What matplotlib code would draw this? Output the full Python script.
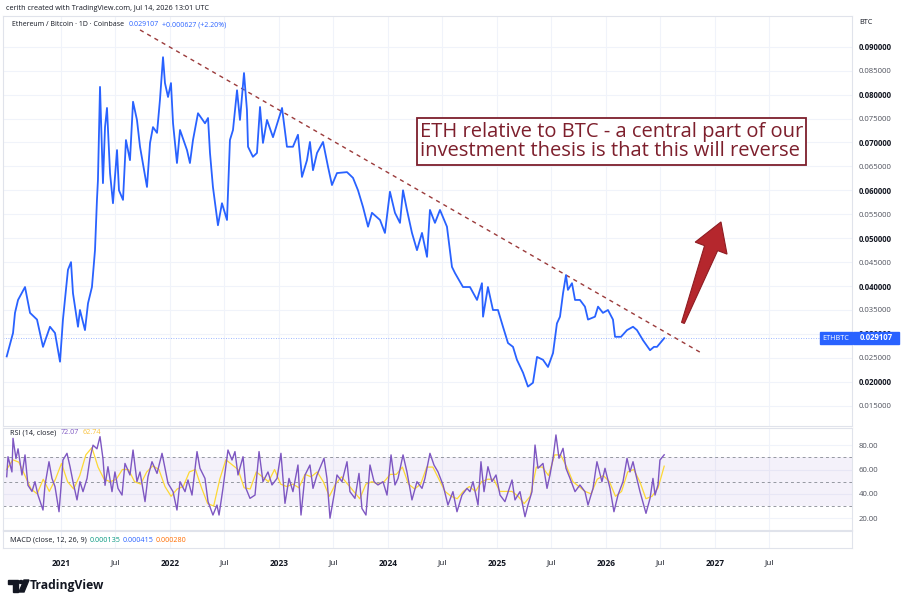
import numpy as np
import matplotlib
matplotlib.use("Agg")
import matplotlib.pyplot as plt
from matplotlib.patches import Polygon, Rectangle, Circle
from matplotlib.transforms import IdentityTransform

plt.rcParams['font.family'] = ['Open Sans', 'DejaVu Sans']

# ETH/BTC daily close (decimal years)
price_t = [2020.502, 2020.560, 2020.578, 2020.606, 2020.670, 2020.716, 2020.780, 2020.835, 2020.899, 2020.945,
           2020.991, 2021.018, 2021.064, 2021.092, 2021.110, 2021.156, 2021.174, 2021.220, 2021.248, 2021.284,
           2021.312, 2021.330, 2021.339, 2021.358, 2021.385, 2021.404, 2021.422, 2021.450, 2021.477, 2021.514,
           2021.532, 2021.569, 2021.596, 2021.633, 2021.661, 2021.697, 2021.725, 2021.789, 2021.817, 2021.844,
           2021.881, 2021.908, 2021.936, 2021.954, 2021.982, 2022.009, 2022.028, 2022.064, 2022.092, 2022.156,
           2022.183, 2022.211, 2022.257, 2022.321, 2022.349, 2022.367, 2022.394, 2022.440, 2022.477, 2022.523,
           2022.550, 2022.578, 2022.615, 2022.642, 2022.679, 2022.706, 2022.716, 2022.761, 2022.798, 2022.826,
           2022.853, 2022.890, 2022.945, 2023.028, 2023.073, 2023.128, 2023.174, 2023.211, 2023.257, 2023.284,
           2023.312, 2023.349, 2023.404, 2023.450, 2023.486, 2023.532, 2023.624, 2023.679, 2023.725, 2023.771,
           2023.817, 2023.853, 2023.927, 2023.972, 2024.018, 2024.064, 2024.110, 2024.138, 2024.174, 2024.220,
           2024.266, 2024.312, 2024.358, 2024.385, 2024.431, 2024.477, 2024.541, 2024.587, 2024.615, 2024.688,
           2024.752, 2024.817, 2024.862, 2024.872, 2024.917, 2024.963, 2025.009, 2025.055, 2025.101, 2025.147,
           2025.183, 2025.239, 2025.284, 2025.330, 2025.367, 2025.422, 2025.468, 2025.514, 2025.550, 2025.578,
           2025.606, 2025.633, 2025.651, 2025.688, 2025.716, 2025.761, 2025.807, 2025.835, 2025.899, 2025.927,
           2025.972, 2026.018, 2026.064, 2026.083, 2026.138, 2026.193, 2026.248, 2026.284, 2026.339, 2026.404,
           2026.440, 2026.468, 2026.534]
price = [0.0253, 0.0302, 0.0344, 0.0371, 0.0398, 0.0344, 0.0330, 0.0273, 0.0315, 0.0302,
         0.0242, 0.0330, 0.0434, 0.0450, 0.0385, 0.0315, 0.0350, 0.0308, 0.0364, 0.0398,
         0.0475, 0.0580, 0.0621, 0.0816, 0.0615, 0.0732, 0.0772, 0.0636, 0.0573, 0.0684,
         0.0600, 0.0580, 0.0705, 0.0663, 0.0785, 0.0747, 0.0691, 0.0607, 0.0699, 0.0732,
         0.0720, 0.0789, 0.0878, 0.0824, 0.0795, 0.0824, 0.0740, 0.0657, 0.0726, 0.0684,
         0.0657, 0.0705, 0.0761, 0.0740, 0.0751, 0.0678, 0.0607, 0.0527, 0.0573, 0.0538,
         0.0705, 0.0726, 0.0809, 0.0747, 0.0845, 0.0768, 0.0691, 0.0670, 0.0678, 0.0774,
         0.0699, 0.0747, 0.0711, 0.0772, 0.0691, 0.0691, 0.0716, 0.0628, 0.0663, 0.0701,
         0.0642, 0.0678, 0.0701, 0.0649, 0.0611, 0.0636, 0.0638, 0.0626, 0.0600, 0.0565,
         0.0524, 0.0553, 0.0538, 0.0511, 0.0597, 0.0553, 0.0532, 0.0600, 0.0559, 0.0511,
         0.0475, 0.0511, 0.0461, 0.0559, 0.0532, 0.0559, 0.0524, 0.0440, 0.0427, 0.0398,
         0.0398, 0.0371, 0.0406, 0.0336, 0.0398, 0.0350, 0.0350, 0.0315, 0.0281, 0.0273,
         0.0246, 0.0219, 0.0190, 0.0198, 0.0252, 0.0246, 0.0231, 0.0260, 0.0322, 0.0336,
         0.0385, 0.0423, 0.0392, 0.0406, 0.0371, 0.0371, 0.0357, 0.0330, 0.0336, 0.0357,
         0.0344, 0.0350, 0.0330, 0.0294, 0.0294, 0.0308, 0.0315, 0.0308, 0.0287, 0.0266,
         0.0273, 0.0273, 0.029107]

# RSI(14)
rsi_t = [2020.502, 2020.514, 2020.550, 2020.560, 2020.587, 2020.606, 2020.642, 2020.670, 2020.697, 2020.734,
         2020.761, 2020.789, 2020.835, 2020.853, 2020.890, 2020.917, 2020.945, 2020.982, 2021.009, 2021.018,
         2021.055, 2021.083, 2021.110, 2021.147, 2021.174, 2021.202, 2021.239, 2021.266, 2021.294, 2021.330,
         2021.358, 2021.385, 2021.404, 2021.431, 2021.468, 2021.495, 2021.523, 2021.560, 2021.587, 2021.633,
         2021.661, 2021.697, 2021.725, 2021.771, 2021.798, 2021.835, 2021.881, 2021.927, 2021.954, 2021.982,
         2022.028, 2022.064, 2022.092, 2022.138, 2022.165, 2022.202, 2022.248, 2022.275, 2022.321, 2022.349,
         2022.394, 2022.431, 2022.450, 2022.486, 2022.532, 2022.569, 2022.596, 2022.624, 2022.670, 2022.697,
         2022.734, 2022.780, 2022.817, 2022.853, 2022.899, 2022.936, 2022.982, 2023.018, 2023.055, 2023.092,
         2023.128, 2023.174, 2023.202, 2023.239, 2023.284, 2023.312, 2023.349, 2023.413, 2023.440, 2023.468,
         2023.505, 2023.532, 2023.578, 2023.624, 2023.651, 2023.697, 2023.734, 2023.761, 2023.798, 2023.835,
         2023.872, 2023.908, 2023.954, 2023.991, 2024.028, 2024.064, 2024.092, 2024.138, 2024.174, 2024.220,
         2024.266, 2024.312, 2024.339, 2024.385, 2024.422, 2024.459, 2024.505, 2024.550, 2024.596, 2024.633,
         2024.679, 2024.725, 2024.752, 2024.780, 2024.826, 2024.853, 2024.881, 2024.917, 2024.954, 2024.991,
         2025.028, 2025.073, 2025.138, 2025.165, 2025.211, 2025.257, 2025.284, 2025.321, 2025.349, 2025.376,
         2025.422, 2025.459, 2025.486, 2025.514, 2025.541, 2025.569, 2025.606, 2025.633, 2025.670, 2025.716,
         2025.761, 2025.807, 2025.835, 2025.881, 2025.917, 2025.963, 2025.991, 2026.037, 2026.073, 2026.110,
         2026.156, 2026.193, 2026.220, 2026.248, 2026.275, 2026.312, 2026.367, 2026.404, 2026.431, 2026.450,
         2026.477, 2026.495, 2026.534]
rsi = [54.1, 70.5, 58, 85.6, 69, 77, 55.5, 72, 47, 42,
       50, 39, 26.7, 47, 66.4, 52.7, 46, 25.3, 55.5, 67.8,
       73.3, 62.3, 50, 35, 50, 41.8, 52.7, 69, 80, 77,
       87, 69, 47, 62.3, 41.8, 58, 44.5, 39, 65, 55.5,
       76, 50, 58, 33.6, 54.1, 66.4, 56.8, 73.3, 61, 48.6,
       41.8, 26.7, 50, 41.8, 51.4, 39, 74.7, 61, 52.7, 33.6,
       22.6, 30.8, 22.6, 44.5, 76, 67.8, 74.7, 55.5, 70.5, 44.5,
       36.3, 39, 74.7, 50, 58, 47.3, 52.7, 73.3, 32.2, 52.7,
       41.8, 63.7, 22.6, 55.5, 63.7, 44.5, 55.5, 69.2, 52.7, 20,
       39, 55.5, 50, 66.4, 41.8, 36.3, 56.8, 28, 22.6, 63.7,
       50, 47.3, 50, 39, 72, 47.3, 52.7, 72, 58, 35,
       50, 44.5, 52.7, 73.3, 63.7, 58, 47.3, 30.8, 41.8, 25.3,
       39, 44.5, 41.8, 50, 30.8, 66.4, 41.8, 62.3, 50, 55.5,
       39, 33.6, 51.4, 35, 41.8, 21.2, 30.8, 41.8, 80.1, 61,
       65, 44.5, 55.5, 69.2, 88.4, 69.2, 77.4, 61, 52.7, 41.8,
       47.3, 41.8, 30.8, 44.5, 66.4, 50, 61, 44.5, 25.3, 39,
       50, 69.2, 58, 66.4, 55.5, 41.8, 24, 36.3, 52.7, 39,
       47.3, 67.8, 72.07]

# RSI-based moving average, sampled evenly from first to last bar
rsi_ma = [60, 68, 66, 55, 44, 40, 52, 42, 52, 65, 50, 44, 55, 72, 78,
          62, 52, 50, 52, 60, 60, 50, 48, 58, 63, 60, 46, 38, 44, 46,
          58, 60, 45, 32, 30, 52, 68, 64, 60, 45, 44, 58, 54, 50, 60,
          48, 46, 48, 45, 56, 54, 58, 50, 38, 48, 54, 48, 42, 36, 48,
          50, 48, 50, 56, 56, 62, 48, 44, 48, 62, 62, 52, 42, 38, 36,
          42, 46, 42, 50, 52, 52, 42, 42, 42, 38, 32, 38, 62, 62, 55,
          72, 72, 62, 50, 46, 42, 40, 52, 55, 50, 38, 42, 58, 60, 50,
          36, 38, 45, 62.74]
rsi_ma_t = np.linspace(price_t[0], price_t[-1], len(rsi_ma))

# resistance line drawn by the author, and the reversal arrow
trend_t = [2021.725, 2026.862]
trend_v = [0.0935, 0.0262]
arrow_t = [2026.706, 2027.055]
arrow_v = [0.0323, 0.0534]

tick_years = [2021, 2022, 2023, 2024, 2025, 2026, 2027]
price_ticks = [0.015, 0.020, 0.025, 0.030, 0.035, 0.040, 0.045, 0.050, 0.055,
               0.060, 0.065, 0.070, 0.075, 0.080, 0.085, 0.090]
rsi_ticks = [20, 40, 60, 80]

W, H = 902, 603
BLUE = '#2962ff'
GRID = '#f0f3fa'
TXT = '#131722'
MAROON = '#7d1f2c'
SMALL = 5.2


def box(l, t, r, b):
    return [l / W, 1 - b / H, (r - l) / W, (b - t) / H]


def ftext(x, y, s, **kw):
    kw.setdefault('fontsize', SMALL)
    kw.setdefault('color', TXT)
    kw.setdefault('va', 'center')
    return fig.text(x / W, 1 - y / H, s, **kw)


fig = plt.figure(figsize=(W / 100, H / 100), dpi=100)
fig.patch.set_facecolor('white')

xlim = (2020.468, 2028.257)
xt, xl = [], []
for y in tick_years:
    xt += [y, y + 0.496]
    xl += [str(y), 'Jul']

ax = fig.add_axes(box(3, 16, 852, 426))
rax = fig.add_axes(box(3, 428, 852, 530), sharex=ax)
max_ = fig.add_axes(box(3, 531, 852, 548), sharex=ax)

for a in (ax, rax, max_):
    a.set_xlim(*xlim)
    a.set_xticks(xt)
    a.grid(True, color=GRID, lw=0.8)
    a.set_axisbelow(True)
    for s in a.spines.values():
        s.set_color('#e0e3eb')
        s.set_linewidth(0.8)
    a.tick_params(length=0, labelsize=5.6, colors=TXT)
    a.yaxis.tick_right()
    a.tick_params(axis='x', labelbottom=False)

# main price pane
ax.set_ylim(0.01077, 0.09641)
ax.set_yticks(price_ticks)
ax.set_yticklabels(['%.6f' % v for v in price_ticks])
ax.tick_params(axis='y', pad=5)
for v, lab in zip(price_ticks, ax.get_yticklabels()):
    if round(v * 1000) % 10 == 0:
        lab.set_fontweight('bold')
    else:
        lab.set_color('#50535e')
ax.axhline(price[-1], color=BLUE, lw=0.6, ls=(0, (1, 2)), alpha=0.6)
ax.plot(trend_t, trend_v, color='#9b3b3b', lw=1, ls=(0, (3, 3)))
ax.plot(price_t, price, color=BLUE, lw=1.3, solid_joinstyle='round')

# RSI pane
rax.set_ylim(10.3, 94.1)
rax.set_yticks(rsi_ticks)
rax.set_yticklabels(['%.2f' % v for v in rsi_ticks])
rax.tick_params(axis='y', pad=5, colors='#50535e')
rax.axhspan(30, 70, color='#7e57c2', alpha=0.08, lw=0)
for lvl in (30, 50, 70):
    rax.axhline(lvl, color='#9598a1', lw=0.7, ls=(0, (3, 3)))
rax.plot(rsi_ma_t, rsi_ma, color='#fdd835', lw=0.9)
rax.plot(rsi_t, rsi, color='#7e57c2', lw=1.0)

# MACD pane (empty) carries the time labels
max_.set_yticks([])
max_.set_ylim(0, 1)
max_.tick_params(axis='x', labelbottom=True, pad=8, labelsize=6)
max_.set_xticklabels(xl)
for lab in max_.get_xticklabels():
    if lab.get_text() != 'Jul':
        lab.set_fontweight('bold')

# header texts
ftext(6, 8, 'cerith created with TradingView.com, Jul 14, 2026 13:01 UTC')
ftext(12, 25, 'Ethereum / Bitcoin · 1D · Coinbase', fontsize=5.0)
ftext(129, 25, '0.029107', color=BLUE, fontsize=5.0)
ftext(162, 25, '+0.000627 (+2.20%)', color=BLUE, fontsize=5.0)
ftext(859, 22, 'BTC')

ftext(10, 433, 'RSI (14, close)')
ftext(61, 433, '72.07', color='#7e57c2')
ftext(83, 433, '62.74', color='#f9c23c')

ftext(10, 540, 'MACD (close, 12, 26, 9)')
ftext(90, 540, '0.000135', color='#089981')
ftext(123, 540, '0.000415', color=BLUE)
ftext(156, 540, '0.000280', color='#ff6d00')

# last price labels on the scale
fig.patches.append(Rectangle((820 / W, 1 - 344 / H), 32 / W, 12 / H, transform=fig.transFigure,
                             color=BLUE, zorder=5))
fig.patches.append(Rectangle((853 / W, 1 - 344 / H), 46 / W, 12 / H, transform=fig.transFigure,
                             color=BLUE, zorder=5))
ftext(836, 338, 'ETHBTC', fontsize=5.2, color='white', ha='center', zorder=6)
ftext(876, 338, '0.029107', fontsize=5.6, color='white', ha='center', fontweight='bold', zorder=6)

# annotation box
ftext(420, 141.5,
      'ETH relative to BTC - a central part of our\ninvestment thesis is that this will reverse',
      fontsize=14.5, color=MAROON, ha='left', linespacing=1.0,
      bbox=dict(boxstyle='square,pad=0.15', fc='white', ec=MAROON, lw=1.3))

# tapered arrow, built in pixel space from its two data points
fig.canvas.draw()
p0 = ax.transData.transform((arrow_t[0], arrow_v[0]))
p1 = ax.transData.transform((arrow_t[1], arrow_v[1]))
d = p1 - p0
u = d / np.hypot(*d)
n = np.array([-u[1], u[0]])
base = p1 - u * 28
pts = [p0 + n * 1.5, base + n * 7, base + n * 17, p1, base - n * 17, base - n * 7, p0 - n * 1.5]
fig.patches.append(Polygon(pts, closed=True, transform=IdentityTransform(),
                           fc='#b5272d', ec='#8e1c22', lw=0.8, zorder=6))

# TradingView logo
fig.patches.append(Rectangle((8 / W, 1 - 584 / H), 10 / W, 4 / H, transform=fig.transFigure, color=TXT))
fig.patches.append(Rectangle((13 / W, 1 - 592 / H), 5 / W, 8 / H, transform=fig.transFigure, color=TXT))
fig.patches.append(Circle((21 / W, 1 - 582 / H), 2.2 / W, transform=fig.transFigure, color=TXT))
fig.patches.append(Polygon([(24 / W, 1 - 580 / H), (29 / W, 1 - 580 / H), (24 / W, 1 - 592 / H),
                            (19 / W, 1 - 592 / H)], closed=True, transform=fig.transFigure, color=TXT))
ftext(30, 585.5, 'TradingView', fontsize=8.7, fontweight='bold')

fig.savefig('out.png', dpi=100, facecolor='white')
